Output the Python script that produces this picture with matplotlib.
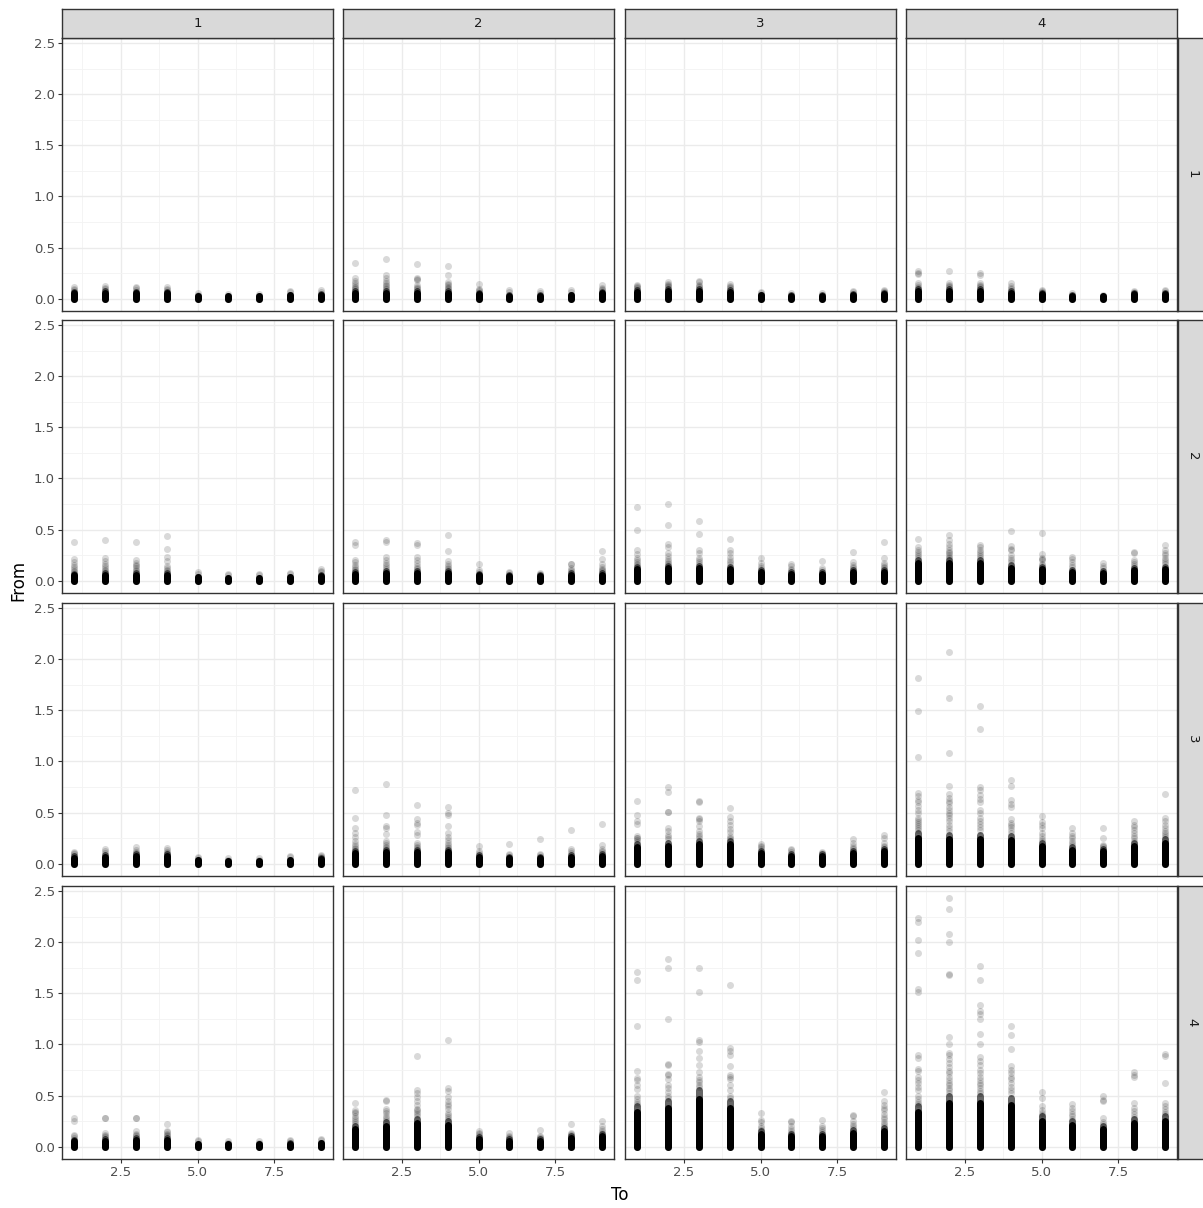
import matplotlib
matplotlib.use("Agg")
import matplotlib.pyplot as plt
import numpy as np

# ---------------- data ----------------
to_levels = [1, 2, 3, 4]      # facet columns
from_levels = [1, 2, 3, 4]    # facet rows
x_values = [1, 2, 3, 4, 5, 6, 7, 8, 9]
x_ticks = [2.5, 5.0, 7.5]
y_ticks = [0.0, 0.5, 1.0, 1.5, 2.0, 2.5]

# top of the solid (over-plotted) column per x, for each To facet
dense_from1 = [
    [0.06, 0.07, 0.06, 0.06, 0.03, 0.025, 0.025, 0.04, 0.045],
    [0.07, 0.07, 0.07, 0.07, 0.05, 0.035, 0.035, 0.04, 0.06],
    [0.08, 0.09, 0.09, 0.08, 0.04, 0.035, 0.035, 0.045, 0.05],
    [0.09, 0.09, 0.09, 0.07, 0.05, 0.035, 0.03, 0.05, 0.055],
]
dense_from2 = [
    [0.06, 0.07, 0.07, 0.07, 0.04, 0.03, 0.03, 0.04, 0.05],
    [0.08, 0.09, 0.09, 0.09, 0.06, 0.05, 0.05, 0.07, 0.07],
    [0.13, 0.14, 0.14, 0.13, 0.10, 0.08, 0.08, 0.10, 0.10],
    [0.20, 0.20, 0.20, 0.15, 0.13, 0.10, 0.09, 0.12, 0.13],
]
dense_from3 = [
    [0.07, 0.08, 0.09, 0.09, 0.04, 0.03, 0.03, 0.04, 0.05],
    [0.12, 0.13, 0.13, 0.13, 0.08, 0.06, 0.06, 0.08, 0.09],
    [0.19, 0.20, 0.22, 0.22, 0.12, 0.09, 0.09, 0.12, 0.14],
    [0.30, 0.28, 0.28, 0.27, 0.20, 0.16, 0.14, 0.20, 0.24],
]
dense_from4 = [
    [0.06, 0.07, 0.08, 0.08, 0.03, 0.03, 0.025, 0.035, 0.04],
    [0.20, 0.24, 0.27, 0.25, 0.09, 0.07, 0.07, 0.10, 0.12],
    [0.40, 0.45, 0.55, 0.45, 0.15, 0.12, 0.12, 0.16, 0.18],
    [0.40, 0.50, 0.50, 0.48, 0.30, 0.25, 0.20, 0.27, 0.30],
]

# individual (sparser) points above the solid column per x, for each To facet
points_from1 = [
    [[0.11, 0.09, 0.08], [0.125, 0.1, 0.09], [0.115, 0.1, 0.08], [0.11, 0.09, 0.08],
     [0.05, 0.04], [0.045], [0.045], [0.075, 0.06], [0.08, 0.065]],
    [[0.35, 0.2, 0.17, 0.15, 0.13, 0.11, 0.1, 0.09], [0.39, 0.23, 0.2, 0.17, 0.15, 0.13, 0.12, 0.1, 0.09],
     [0.34, 0.2, 0.19, 0.18, 0.13, 0.11, 0.1, 0.09], [0.32, 0.23, 0.16, 0.14, 0.13, 0.11, 0.1, 0.09],
     [0.14, 0.09, 0.08, 0.07], [0.08, 0.06], [0.07, 0.05], [0.08, 0.06], [0.13, 0.1, 0.09, 0.08]],
    [[0.13, 0.12, 0.11, 0.1], [0.16, 0.14, 0.13, 0.12, 0.11], [0.17, 0.16, 0.13, 0.12, 0.11],
     [0.14, 0.12, 0.11, 0.1], [0.06, 0.05], [0.05], [0.05], [0.07, 0.06], [0.085, 0.07, 0.06]],
    [[0.27, 0.25, 0.24, 0.15, 0.13, 0.11, 0.1], [0.27, 0.15, 0.13, 0.12, 0.11],
     [0.25, 0.23, 0.15, 0.13, 0.12, 0.11], [0.15, 0.12, 0.1, 0.09], [0.08, 0.07, 0.06],
     [0.05], [0.04], [0.07, 0.06], [0.08, 0.07]],
]
points_from2 = [
    [[0.38, 0.21, 0.18, 0.15, 0.13, 0.11, 0.09, 0.08], [0.40, 0.22, 0.19, 0.16, 0.14, 0.12, 0.1, 0.09],
     [0.38, 0.2, 0.17, 0.15, 0.14, 0.12, 0.1, 0.09], [0.44, 0.31, 0.23, 0.19, 0.14, 0.12, 0.1, 0.09],
     [0.08, 0.06], [0.06, 0.05], [0.06, 0.05], [0.07, 0.06], [0.11, 0.09, 0.08]],
    [[0.38, 0.35, 0.2, 0.18, 0.15, 0.13, 0.11, 0.1], [0.40, 0.38, 0.23, 0.2, 0.17, 0.15, 0.13, 0.11],
     [0.37, 0.35, 0.23, 0.2, 0.17, 0.14, 0.12, 0.11], [0.45, 0.29, 0.19, 0.16, 0.14, 0.12, 0.11],
     [0.16, 0.1, 0.08], [0.08, 0.07], [0.07, 0.06], [0.16, 0.16, 0.12, 0.1, 0.09],
     [0.29, 0.21, 0.16, 0.13, 0.11, 0.1, 0.09]],
    [[0.72, 0.5, 0.3, 0.26, 0.22, 0.2, 0.18, 0.16, 0.15], [0.75, 0.54, 0.36, 0.33, 0.27, 0.24, 0.21, 0.19, 0.17, 0.16],
     [0.58, 0.46, 0.3, 0.27, 0.22, 0.2, 0.18, 0.16], [0.41, 0.3, 0.27, 0.23, 0.2, 0.18, 0.16],
     [0.22, 0.17, 0.14, 0.12], [0.16, 0.14, 0.11, 0.1], [0.19, 0.12, 0.1], [0.28, 0.18, 0.15, 0.13, 0.12],
     [0.38, 0.22, 0.17, 0.15, 0.13, 0.12]],
    [[0.41, 0.33, 0.3, 0.28, 0.26, 0.24, 0.22], [0.45, 0.4, 0.36, 0.33, 0.3, 0.28, 0.27, 0.25, 0.23, 0.22],
     [0.35, 0.33, 0.3, 0.28, 0.26, 0.24, 0.22], [0.49, 0.34, 0.31, 0.3, 0.25, 0.22, 0.2, 0.18],
     [0.47, 0.26, 0.22, 0.21, 0.2, 0.16, 0.15], [0.23, 0.21, 0.18, 0.15, 0.13], [0.17, 0.14, 0.12],
     [0.28, 0.27, 0.2, 0.18, 0.16, 0.14], [0.35, 0.3, 0.27, 0.25, 0.22, 0.2, 0.18, 0.16]],
]
points_from3 = [
    [[0.11, 0.1, 0.09], [0.14, 0.12, 0.1], [0.16, 0.13, 0.11, 0.1], [0.15, 0.13, 0.11, 0.1],
     [0.06, 0.05], [0.05, 0.04], [0.05, 0.04], [0.07, 0.06], [0.08, 0.07, 0.06]],
    [[0.72, 0.45, 0.35, 0.3, 0.26, 0.22, 0.19, 0.17, 0.15, 0.14],
     [0.78, 0.48, 0.37, 0.35, 0.29, 0.22, 0.2, 0.18, 0.16, 0.15],
     [0.57, 0.44, 0.4, 0.38, 0.31, 0.28, 0.2, 0.18, 0.16, 0.15],
     [0.55, 0.5, 0.48, 0.37, 0.3, 0.26, 0.23, 0.2, 0.18, 0.16, 0.15],
     [0.17, 0.12, 0.1], [0.19, 0.09, 0.08], [0.24, 0.09, 0.08], [0.33, 0.14, 0.12, 0.1],
     [0.39, 0.18, 0.14, 0.12, 0.11]],
    [[0.61, 0.48, 0.42, 0.39, 0.27, 0.25, 0.25, 0.23, 0.21],
     [0.75, 0.7, 0.51, 0.51, 0.35, 0.32, 0.28, 0.26, 0.24],
     [0.61, 0.6, 0.45, 0.44, 0.42, 0.37, 0.32, 0.29, 0.27, 0.25],
     [0.54, 0.46, 0.42, 0.38, 0.34, 0.31, 0.27, 0.25, 0.24],
     [0.19, 0.17, 0.16, 0.14], [0.14, 0.13, 0.11], [0.11, 0.1], [0.24, 0.2, 0.17, 0.15, 0.14],
     [0.28, 0.25, 0.2, 0.17, 0.16]],
    [[1.82, 1.49, 1.04, 0.69, 0.66, 0.62, 0.6, 0.56, 0.52, 0.5, 0.45, 0.43, 0.41, 0.39, 0.37, 0.35, 0.33],
     [2.07, 1.62, 1.08, 0.76, 0.68, 0.64, 0.61, 0.59, 0.55, 0.52, 0.5, 0.48, 0.45, 0.42, 0.38, 0.35, 0.32],
     [1.54, 1.32, 0.75, 0.72, 0.67, 0.63, 0.6, 0.52, 0.5, 0.45, 0.42, 0.39, 0.36, 0.33],
     [0.82, 0.76, 0.62, 0.58, 0.55, 0.44, 0.4, 0.38, 0.36, 0.33, 0.3],
     [0.47, 0.41, 0.38, 0.35, 0.3, 0.27, 0.24, 0.22], [0.35, 0.3, 0.27, 0.25, 0.22, 0.2, 0.18],
     [0.35, 0.25, 0.18, 0.17, 0.16], [0.42, 0.38, 0.36, 0.33, 0.3, 0.27, 0.25, 0.22],
     [0.68, 0.45, 0.42, 0.38, 0.35, 0.32, 0.3, 0.28, 0.26]],
]
points_from4 = [
    [[0.28, 0.25, 0.11, 0.1, 0.08], [0.28, 0.28, 0.13, 0.11, 0.1, 0.09], [0.28, 0.28, 0.15, 0.12, 0.11, 0.1],
     [0.22, 0.15, 0.14, 0.12, 0.11, 0.1], [0.06, 0.05], [0.05, 0.04], [0.05, 0.04], [0.06, 0.05], [0.07, 0.06]],
    [[0.43, 0.36, 0.34, 0.33, 0.3, 0.28, 0.26, 0.24, 0.22], [0.46, 0.45, 0.37, 0.35, 0.33, 0.3, 0.28, 0.26],
     [0.89, 0.55, 0.52, 0.49, 0.45, 0.41, 0.37, 0.36, 0.34, 0.32, 0.3],
     [1.04, 0.57, 0.54, 0.49, 0.45, 0.42, 0.4, 0.37, 0.33, 0.31, 0.29, 0.27],
     [0.15, 0.13, 0.12, 0.1], [0.13, 0.1, 0.09, 0.08], [0.16, 0.1, 0.09, 0.08], [0.22, 0.13, 0.12, 0.11],
     [0.25, 0.2, 0.17, 0.15, 0.13]],
    [[1.71, 1.63, 1.18, 0.74, 0.67, 0.65, 0.6, 0.56, 0.5, 0.47, 0.44, 0.42],
     [1.84, 1.75, 1.25, 0.81, 0.8, 0.71, 0.7, 0.66, 0.6, 0.57, 0.53, 0.5, 0.48],
     [1.75, 1.51, 1.04, 1.02, 0.94, 0.87, 0.8, 0.73, 0.68, 0.65, 0.63, 0.6, 0.58],
     [1.58, 0.97, 0.94, 0.9, 0.79, 0.7, 0.68, 0.66, 0.6, 0.55, 0.5, 0.48],
     [0.33, 0.26, 0.24, 0.2, 0.18, 0.16], [0.25, 0.24, 0.2, 0.17, 0.15, 0.13],
     [0.26, 0.2, 0.18, 0.16, 0.14], [0.31, 0.3, 0.25, 0.22, 0.2, 0.18],
     [0.53, 0.45, 0.41, 0.38, 0.36, 0.32, 0.29, 0.27, 0.24, 0.22, 0.2]],
    [[2.24, 2.2, 2.02, 1.9, 1.54, 1.51, 0.9, 0.87, 0.76, 0.74, 0.68, 0.65, 0.62, 0.58, 0.55, 0.5, 0.47, 0.44, 0.42],
     [2.43, 2.33, 2.08, 2.0, 1.69, 1.68, 1.07, 1.0, 0.92, 0.9, 0.86, 0.82, 0.78, 0.74, 0.72, 0.68, 0.65,
      0.62, 0.6, 0.57, 0.55, 0.52],
     [1.77, 1.63, 1.39, 1.33, 1.3, 1.25, 1.1, 1.0, 0.88, 0.84, 0.8, 0.75, 0.72, 0.68, 0.65, 0.62, 0.6,
      0.57, 0.54, 0.52],
     [1.18, 1.09, 0.96, 0.79, 0.75, 0.72, 0.68, 0.66, 0.62, 0.58, 0.55, 0.52],
     [0.53, 0.48, 0.4, 0.36, 0.33, 0.31], [0.42, 0.38, 0.35, 0.32, 0.3, 0.27],
     [0.5, 0.46, 0.45, 0.28, 0.24, 0.22], [0.73, 0.7, 0.68, 0.43, 0.38, 0.35, 0.32, 0.29],
     [0.91, 0.89, 0.62, 0.43, 0.4, 0.37, 0.34, 0.32]],
]

dense_all = [dense_from1, dense_from2, dense_from3, dense_from4]
points_all = [points_from1, points_from2, points_from3, points_from4]

# ---------------- layout ----------------
W, H = 1203, 1208
fig = plt.figure(figsize=(W / 100, H / 100), dpi=100)
fig.patch.set_facecolor("white")

col_left = [62, 343, 625, 906]
panel_w = 271
row_top = [38, 320, 603, 886]
panel_h = 273
strip_h = 29
strip_w = 26

# y range with ggplot-style 5% expansion
all_vals = [v for rowp in points_all for colp in rowp for lst in colp for v in lst]
ymax = max(all_vals)
ymin = 0.0
pad = 0.05 * (ymax - ymin)
ylim = (ymin - pad, ymax + pad)
xpad = 0.05 * (max(x_values) - min(x_values))
xlim = (min(x_values) - xpad, max(x_values) + xpad)

border_col = "#333333"
grid_major = "#ebebeb"
grid_minor = "#f3f3f3"
text_col = "#4d4d4d"

marker_px = 7.0
marker_pt = marker_px * 72 / 100
solid_share = 0.85   # share of the over-plotted column that renders fully black

def frac_box(left, top, w, h):
    return [left / W, 1 - (top + h) / H, w / W, h / H]

for r in range(4):
    for c in range(4):
        ax = fig.add_axes(frac_box(col_left[c], row_top[r], panel_w, panel_h))
        ax.set_xlim(*xlim)
        ax.set_ylim(*ylim)
        ax.set_facecolor("white")
        ax.set_xticks(x_ticks)
        ax.set_yticks(y_ticks)
        ax.set_xticks([1.25, 3.75, 6.25, 8.75], minor=True)
        ax.set_yticks([0.25, 0.75, 1.25, 1.75, 2.25], minor=True)
        ax.grid(True, which="major", color=grid_major, linewidth=1.0, zorder=0)
        ax.grid(True, which="minor", color=grid_minor, linewidth=0.6, zorder=0)
        ax.set_axisbelow(True)
        for sp in ax.spines.values():
            sp.set_color(border_col)
            sp.set_linewidth(1.0)
        ax.tick_params(which="minor", length=0)
        ax.tick_params(which="major", length=3, color="#333333", width=0.8,
                       labelsize=9.5, labelcolor=text_col, pad=2)
        if c != 0:
            ax.tick_params(axis="y", length=0, labelleft=False)
        else:
            ax.set_yticklabels([f"{v:.1f}" for v in y_ticks])
        if r != 3:
            ax.tick_params(axis="x", length=0, labelbottom=False)
        else:
            ax.set_xticklabels([f"{v:.1f}" for v in x_ticks])

        dense = np.array(dense_all[r][c])
        pts = points_all[r][c]
        # over-plotted columns: dark fading part, then solid core
        ax.vlines(x_values, np.zeros(len(x_values)), dense, colors="black", alpha=0.6,
                  linewidth=marker_pt, capstyle="round", zorder=3)
        ax.vlines(x_values, np.zeros(len(x_values)), dense * solid_share, colors="black",
                  linewidth=marker_pt, capstyle="round", zorder=3)
        xs, ys = [], []
        for xv, lst in zip(x_values, pts):
            xs.extend([xv] * len(lst))
            ys.extend(lst)
        ax.scatter(xs, ys, s=marker_pt ** 2, color="black", alpha=0.15,
                   linewidths=0, zorder=4)

        if r == 0:
            sax = fig.add_axes(frac_box(col_left[c], row_top[0] - strip_h, panel_w, strip_h))
            sax.set_facecolor("#d9d9d9")
            sax.set_xticks([]); sax.set_yticks([])
            for sp in sax.spines.values():
                sp.set_color(border_col); sp.set_linewidth(1.0)
            sax.text(0.5, 0.5, str(to_levels[c]), ha="center", va="center",
                     fontsize=9.5, color="#1a1a1a", transform=sax.transAxes)
        if c == 3:
            rax = fig.add_axes(frac_box(col_left[3] + panel_w + 1, row_top[r], strip_w + 2, panel_h))
            rax.set_facecolor("#d9d9d9")
            rax.set_xticks([]); rax.set_yticks([])
            for sp in rax.spines.values():
                sp.set_color(border_col); sp.set_linewidth(1.0)
            rax.text(0.5, 0.5, str(from_levels[r]), ha="center", va="center",
                     rotation=-90, fontsize=9.5, color="#1a1a1a", transform=rax.transAxes)

fig.text(620 / W, 1 - 1195 / H, "To", ha="center", va="center", fontsize=12, color="black")
fig.text(18 / W, 1 - 580 / H, "From", ha="center", va="center", rotation=90,
         fontsize=12, color="black")

fig.savefig("out.png", dpi=100, facecolor="white")
